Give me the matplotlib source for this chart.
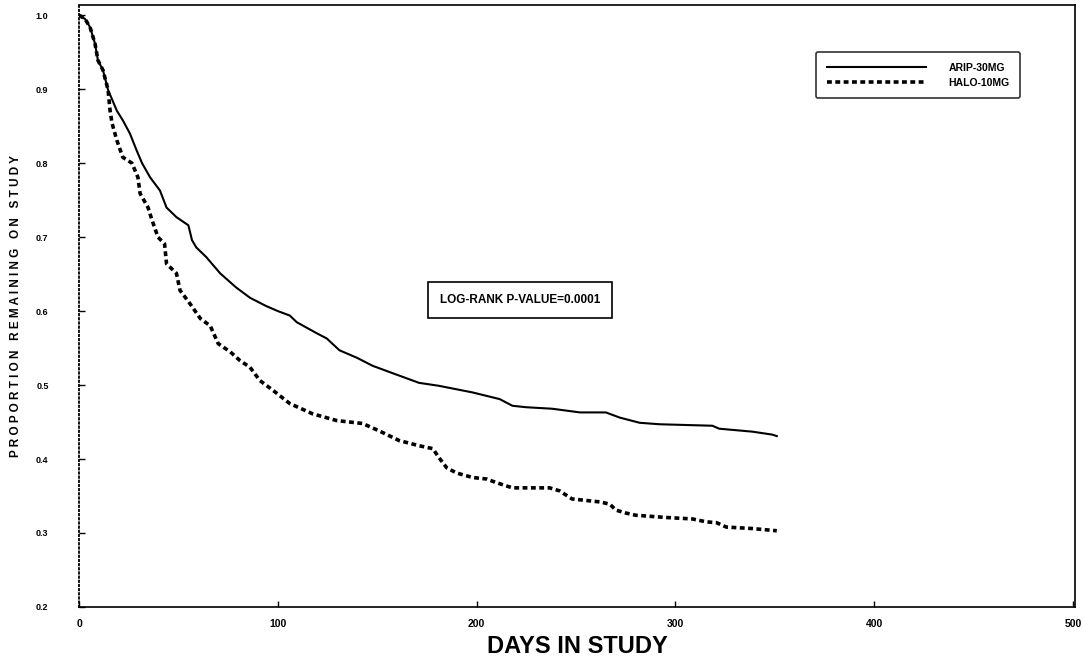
import matplotlib
matplotlib.use("Agg")
from matplotlib import pyplot as plt

# survival curves
arip_days = [0, 3, 5.5, 8, 9.5, 12, 14.6, 19, 22, 25.6, 29, 31.7, 35.7, 40.7, 44, 49, 55, 56.8,
             59, 64, 71, 79, 86, 94, 100, 106, 109.5, 119.6, 124.6, 131, 139.7, 147.7, 157.8,
             171, 181, 198, 211.6, 218, 225, 238, 252, 265, 272, 282, 292, 318.6, 322, 338.7,
             348.7, 351]
arip_surv = [1.0, 0.995, 0.984, 0.962, 0.939, 0.926, 0.899, 0.871, 0.858, 0.840, 0.817, 0.800,
             0.781, 0.763, 0.740, 0.727, 0.716, 0.696, 0.686, 0.673, 0.651, 0.632, 0.618, 0.607,
             0.600, 0.594, 0.585, 0.570, 0.563, 0.547, 0.537, 0.526, 0.516, 0.503, 0.499, 0.490,
             0.481, 0.472, 0.470, 0.468, 0.463, 0.463, 0.456, 0.449, 0.447, 0.445, 0.441, 0.437,
             0.433, 0.431]

halo_days = [0, 3, 5.5, 8, 9.5, 12, 14.6, 15.6, 16.6, 19, 22, 26.6, 29.6, 30.7, 34.7, 36.7,
             39.7, 43, 44, 49, 50.8, 55.8, 61, 66, 70, 76, 81, 86, 91, 97.5, 106, 117.6, 129.6,
             142.7, 151, 161, 171, 178, 181, 185, 190, 198, 205, 210, 218, 236.7, 241.7, 248,
             262, 267, 270, 275, 280, 295, 308.5, 315.6, 320.6, 325.6, 338.7, 351]
halo_surv = [1.0, 0.995, 0.984, 0.962, 0.939, 0.926, 0.899, 0.871, 0.854, 0.831, 0.808, 0.800,
             0.781, 0.759, 0.740, 0.723, 0.700, 0.691, 0.664, 0.651, 0.628, 0.610, 0.590, 0.580,
             0.556, 0.545, 0.533, 0.524, 0.506, 0.493, 0.475, 0.461, 0.452, 0.448, 0.438, 0.425,
             0.418, 0.414, 0.402, 0.388, 0.381, 0.375, 0.373, 0.368, 0.361, 0.361, 0.357, 0.346,
             0.342, 0.339, 0.331, 0.327, 0.324, 0.321, 0.319, 0.315, 0.314, 0.308, 0.306, 0.303]

x_ticks = [0, 100, 200, 300, 400, 500]
y_ticks = [0.2, 0.3, 0.4, 0.5, 0.6, 0.7, 0.8, 0.9, 1.0]

plt.rcParams["font.family"] = ["Liberation Sans", "DejaVu Sans"]
plt.rcParams["lines.scale_dashes"] = False

fig = plt.figure(figsize=(10.83, 6.59), dpi=100)
ax = fig.add_axes([0.073, 0.079, 0.9196, 0.913])

ax.plot(arip_days, arip_surv, color="black", lw=1.5, label="ARIP-30MG")
ax.plot(halo_days, halo_surv, color="black", lw=2.6, dashes=(3.5, 2.5), label="HALO-10MG")

ax.set_xlim(0, 501)
ax.set_ylim(0.2, 1.0135)
ax.set_xticks(x_ticks)
ax.set_xticklabels([str(v) for v in x_ticks], fontsize=7.5, fontweight="bold")
ax.set_yticks(y_ticks)
ax.set_yticklabels(["{:.1f}".format(v) for v in y_ticks], fontsize=6.5, fontweight="bold")
ax.tick_params(axis="x", direction="in", length=4, width=1, pad=9)
ax.tick_params(axis="y", direction="in", length=4, width=1, pad=22)

for side in ["top", "right", "bottom"]:
    ax.spines[side].set_linewidth(1.2)
ax.spines["left"].set_linestyle((0, (1, 2)))
ax.spines["left"].set_linewidth(1.3)

ax.set_xlabel("DAYS IN STUDY", fontsize=17, fontweight="bold", labelpad=4)
ax.set_ylabel("P R O P O R T I O N   R E M A I N I N G   O N   S T U D Y",
              fontsize=8.5, fontweight="bold", labelpad=10)

leg = ax.legend(loc="upper right", bbox_to_anchor=(0.945, 0.922), borderaxespad=0,
                prop={"size": 7.5, "weight": "bold"}, frameon=True, fancybox=True,
                edgecolor="black", handlelength=9.5, handletextpad=2.2,
                borderpad=1.0, labelspacing=0.5)
leg.get_frame().set_linewidth(1.2)

ax.text(222, 0.615, "LOG-RANK P-VALUE=0.0001", fontsize=8.5, fontweight="bold", ha="center", va="center",
        bbox=dict(boxstyle="square,pad=1.0", facecolor="white", edgecolor="black", linewidth=1.2))

plt.savefig("out.png", dpi=100)
